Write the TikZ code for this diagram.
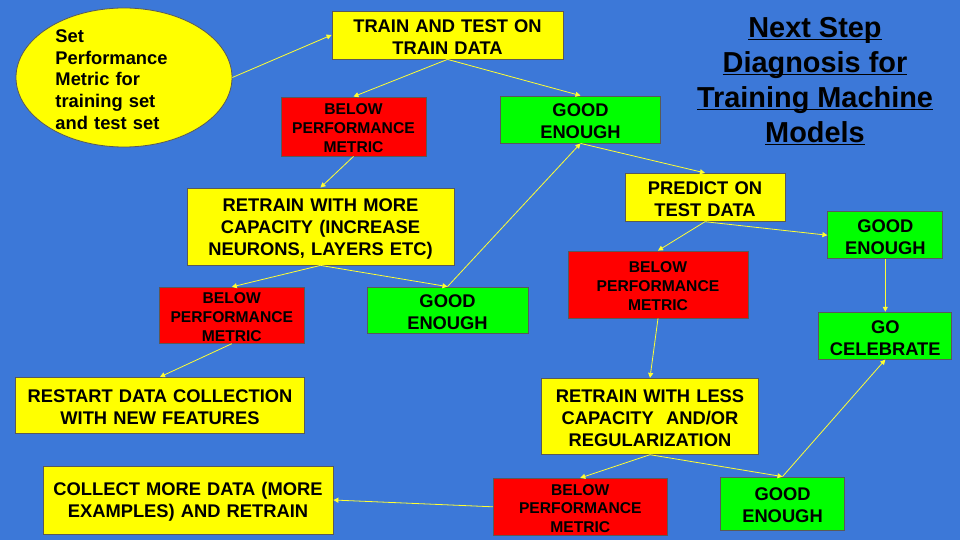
\documentclass[tikz,border=0pt]{standalone}
\usepackage{fontspec}
\setmainfont{Liberation Sans}
\usetikzlibrary{shapes.geometric,arrows.meta}
\definecolor{slideblue}{HTML}{3C78D8}
\definecolor{boxyellow}{HTML}{FFFF00}
\definecolor{boxred}{HTML}{FF0000}
\definecolor{boxgreen}{HTML}{00FF00}
\definecolor{boxline}{HTML}{595959}
\definecolor{flowline}{HTML}{FFFF33}
\newcommand{\boxfont}{\fontsize{18.4}{22}\bfseries\selectfont}
\newcommand{\smallboxfont}{\fontsize{15.7}{19}\bfseries\selectfont}
\newcommand{\titlefont}{\fontsize{29}{35}\bfseries\selectfont}
\newcommand{\ttlline}[1]{\underline{\smash{#1}}}
\tikzset{
  card/.style={draw=boxline, line width=0.8bp, align=center, inner sep=0pt, font=\boxfont,
    execute at begin node={\rule{0pt}{0.93em}}},
  taskcard/.style={card, fill=boxyellow},
  okcard/.style={card, fill=boxgreen},
  failcard/.style={card, fill=boxred, font=\smallboxfont},
  sz/.style 2 args={minimum width=#1bp, minimum height=#2bp, text width=#1bp},
  flow/.style={draw=flowline, line width=0.8bp, -{Triangle[length=5bp,width=5bp]}}
}
\begin{document}
\begin{tikzpicture}[x=1bp,y=-1bp]
\fill[slideblue] (0,0) rectangle (960,540);
\useasboundingbox (0,0) rectangle (960,540);
% left branch: training data
\node[taskcard, ellipse, sz={216}{139}, text width=137bp, align=left, inner xsep=0pt, inner ysep=-15bp] (perf) at (124,77.5) {Set\\Performance\\Metric for\\training set\\and test set};
\node[taskcard, sz={231}{48}] (train) at (447.5,35) {TRAIN AND TEST ON\\TRAIN DATA};
\node[failcard, sz={145}{59}] (below1) at (353.5,126.5) {BELOW\\PERFORMANCE\\METRIC};
\node[okcard, sz={160}{47}] (good1) at (580.5,119.5) {GOOD\\ENOUGH};
\node[taskcard, sz={267}{77}] (moretrain) at (320.5,226.5) {RETRAIN WITH MORE\\CAPACITY (INCREASE\\NEURONS, LAYERS ETC)};
\node[failcard, sz={145}{56}] (below3) at (231.8,315.3) {BELOW\\PERFORMANCE\\METRIC};
\node[okcard, sz={161}{46}] (good3) at (447.5,310) {GOOD\\ENOUGH};
\node[taskcard, sz={289}{56}] (restart) at (160,405.3) {RESTART DATA COLLECTION\\WITH NEW FEATURES};
% right branch: test data
\node[taskcard, sz={160}{48}] (predict) at (705,197.3) {PREDICT ON\\TEST DATA};
\node[okcard, sz={115}{47}] (good2) at (885.3,235.2) {GOOD\\ENOUGH};
\node[failcard, sz={180}{67}] (below2) at (658,284.5) {BELOW\\PERFORMANCE\\METRIC};
\node[okcard, sz={133}{47}] (celebrate) at (885.3,335.7) {GO\\CELEBRATE};
\node[taskcard, sz={217}{76}] (lesstrain) at (650,416.3) {RETRAIN WITH LESS\\CAPACITY~ AND/OR\\REGULARIZATION};
\node[failcard, sz={174}{57}] (below4) at (580.3,506.8) {BELOW\\PERFORMANCE\\METRIC};
\node[okcard, sz={124}{53}] (good4) at (782.5,503.5) {GOOD\\ENOUGH};
\node[taskcard, sz={290}{68}] (collect) at (188,500) {COLLECT MORE DATA (MORE\\EXAMPLES) AND RETRAIN};
% title
\node[align=center, font=\titlefont, inner sep=0pt] (title) at (815,91) {\ttlline{Next Step}\\\ttlline{Diagnosis for}\\\ttlline{Training Machine}\\\ttlline{Models}};
% connectors
\draw[flow] (perf.east) -- (train.west);
\draw[flow] (train.south) -- (below1.north);
\draw[flow] (train.south) -- (good1.north);
\draw[flow] (below1.south) -- (moretrain.north);
\draw[flow] (moretrain.south) -- (below3.north);
\draw[flow] (moretrain.south) -- (good3.north);
\draw[flow] (below3.south) -- (restart.north);
\draw[flow] (good3.north) -- (good1.south);
\draw[flow] (good1.south) -- (predict.north);
\draw[flow] (predict.south) -- (below2.north);
\draw[flow] (predict.south) -- (good2.west);
\draw[flow] (good2.south) -- (celebrate.north);
\draw[flow] (below2.south) -- (lesstrain.north);
\draw[flow] (lesstrain.south) -- (below4.north);
\draw[flow] (lesstrain.south) -- (good4.north);
\draw[flow] (good4.north) -- (celebrate.south);
\draw[flow] (below4.west) -- (collect.east);
\end{tikzpicture}
\end{document}
